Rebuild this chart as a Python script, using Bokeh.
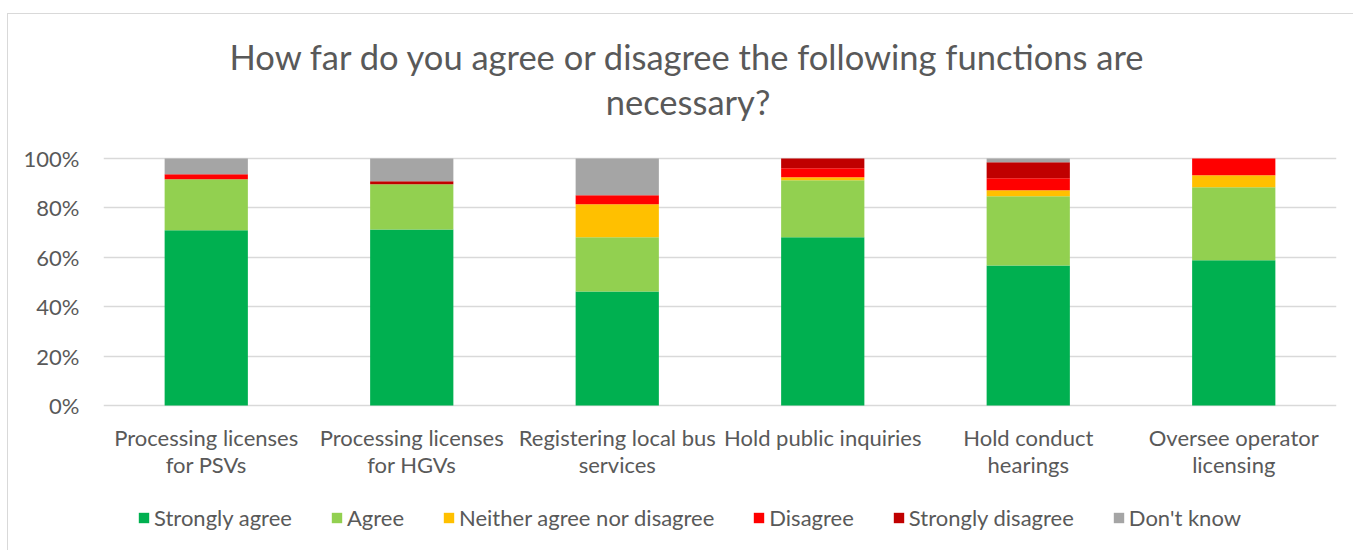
from bokeh.plotting import figure
from bokeh.models import ColumnDataSource, Legend, NumeralTickFormatter, FixedTicker, Label
from bokeh.embed import file_html
from bokeh.resources import INLINE

categories = ["Processing licenses\nfor PSVs", "Processing licenses\nfor HGVs",
              "Registering local bus\nservices", "Hold public inquiries",
              "Hold conduct\nhearings", "Oversee operator\nlicensing"]
strongly_agree = [0.710, 0.713, 0.462, 0.681, 0.567, 0.588]
agree = [0.206, 0.183, 0.219, 0.231, 0.280, 0.296]
neither = [0.000, 0.000, 0.134, 0.012, 0.024, 0.048]
disagree = [0.020, 0.000, 0.036, 0.037, 0.049, 0.068]
strongly_disagree = [0.000, 0.012, 0.000, 0.039, 0.065, 0.000]
dont_know = [0.064, 0.092, 0.149, 0.000, 0.015, 0.000]

series = ["Strongly agree", "Agree", "Neither agree nor disagree", "Disagree",
          "Strongly disagree", "Don't know"]
colors = ["#00B050", "#92D050", "#FFC000", "#FF0000", "#C00000", "#A5A5A5"]
keys = ["sa", "a", "n", "d", "sd", "dk"]
y_ticks = [0, 0.2, 0.4, 0.6, 0.8, 1.0]
title_lines = ["How far do you agree or disagree the following functions are", "necessary?"]

source = ColumnDataSource(dict(cat=categories, sa=strongly_agree, a=agree, n=neither,
                               d=disagree, sd=strongly_disagree, dk=dont_know))

FONT = "Lato"
TXT = "#595959"
PX = 247.0  # pixels per 100%

# frame covers the whole height; 0% sits 145 px above the bottom, 100% 247 px higher
p = figure(x_range=categories, y_range=(-145 / PX, 1.0 + 144 / PX),
           frame_width=1233, frame_height=536,
           output_backend="svg", toolbar_location=None, title=None,
           min_border_left=95, min_border_right=17, min_border_top=0, min_border_bottom=0)
p.margin = (13, 0, 0, 7)
p.styles = {"border-top": "1px solid #D9D9D9", "border-left": "1px solid #D9D9D9"}

renderers = p.vbar_stack(keys, x="cat", width=0.405, color=colors, source=source,
                         line_color=None)

# category labels under the bars
p.text(x="cat", y=-18 / PX, text="cat", source=source, text_align="center",
       text_baseline="top", text_font={"value": FONT}, text_font_size="22px",
       text_color=TXT, text_line_height=1.0)

# title: two centred lines above the plot area
title_x = 3.0 - 32 / 205.5
for i, line in enumerate(title_lines):
    p.add_layout(Label(x=title_x, y=1.0 + (102 - 45 * i) / PX, text=line,
                       text_align="center", text_baseline="middle",
                       text_font=FONT, text_font_size="34.5px", text_color=TXT))

p.outline_line_color = None
p.background_fill_color = "white"
p.border_fill_color = "white"

p.xaxis.visible = False
p.xgrid.grid_line_color = None
p.ygrid.ticker = FixedTicker(ticks=y_ticks)
p.ygrid.grid_line_color = "#D9D9D9"
p.ygrid.grid_line_width = 1.3

p.yaxis.ticker = FixedTicker(ticks=y_ticks)
p.yaxis.formatter = NumeralTickFormatter(format="0%")
p.yaxis.axis_line_color = None
p.yaxis.major_tick_line_color = None
p.yaxis.minor_tick_line_color = None
p.yaxis.major_label_text_font = FONT
p.yaxis.major_label_text_font_size = "22px"
p.yaxis.major_label_text_color = TXT
p.yaxis.major_label_standoff = 18

legend = Legend(items=[(s, [r]) for s, r in zip(series, renderers)],
                orientation="horizontal", location=(34, 19))
legend.label_text_font = FONT
legend.label_text_font_size = "22px"
legend.label_text_color = TXT
legend.glyph_width = 13
legend.glyph_height = 13
legend.label_standoff = 4
legend.spacing = 38
legend.border_line_color = None
legend.background_fill_alpha = 0
legend.margin = 0
legend.padding = 0
p.add_layout(legend, "center")

open("out.html", "w").write(file_html(p, INLINE))
